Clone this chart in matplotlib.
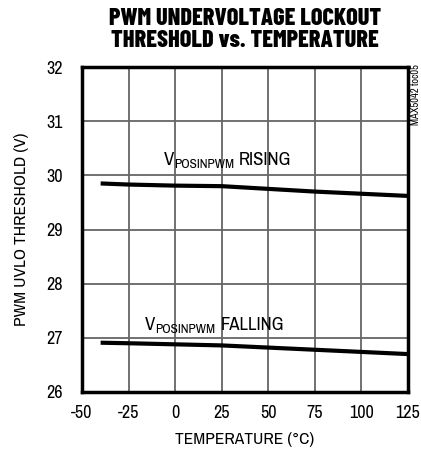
import matplotlib
matplotlib.use("Agg")
import matplotlib.pyplot as plt
from matplotlib.transforms import offset_copy

# narrow fonts similar to the datasheet look, DejaVu as fallback
body_font = ["Archivo Narrow", "DejaVu Sans"]
title_font = ["Barlow Condensed", "DejaVu Sans"]
plt.rcParams["font.family"] = body_font
plt.rcParams["axes.unicode_minus"] = False

temperature = [-40, -25, 0, 25, 50, 75, 100, 125]
rising = [29.85, 29.83, 29.81, 29.80, 29.75, 29.70, 29.66, 29.62]
falling = [26.91, 26.90, 26.88, 26.86, 26.82, 26.78, 26.74, 26.70]

x_ticks = [-50, -25, 0, 25, 50, 75, 100, 125]
y_ticks = [26, 27, 28, 29, 30, 31, 32]

fig = plt.figure(figsize=(4.21, 4.53), dpi=100)
ax = fig.add_axes([82 / 421, 1 - 392 / 453, 326 / 421, 325 / 453])

ax.plot(temperature, rising, color="black", lw=3, solid_capstyle="butt")
ax.plot(temperature, falling, color="black", lw=3, solid_capstyle="butt")

ax.set_xlim(-50, 125)
ax.set_ylim(26, 32)
ax.set_xticks(x_ticks)
ax.set_yticks(y_ticks)
ax.grid(True, color="#666666", lw=1.3)
ax.tick_params(length=0, labelsize=13, pad=9)
ax.tick_params(axis="y", pad=14)
for s in ax.spines.values():
    s.set_linewidth(2.5)

ax.set_xlabel("TEMPERATURE (°C)", fontsize=12.5, labelpad=8)
ax.set_ylabel("PWM UVLO THRESHOLD (V)", fontsize=12.5, labelpad=12)


def curve_label(x, y, tail):
    # "V" + subscript "POSINPWM" + tail, chained left to right
    renderer = fig.canvas.get_renderer()
    t = ax.text(x, y, "V", fontsize=13.5, ha="left", va="baseline")
    w = t.get_window_extent(renderer).width * 72 / fig.dpi
    tr = offset_copy(ax.transData, fig=fig, x=w, y=-1.7, units="points")
    s = ax.text(x, y, "POSINPWM", fontsize=9.5, ha="left", va="baseline", transform=tr)
    w += s.get_window_extent(renderer).width * 72 / fig.dpi + 3.5
    tr = offset_copy(ax.transData, fig=fig, x=w, y=0, units="points")
    ax.text(x, y, tail, fontsize=13.5, ha="left", va="baseline", transform=tr)


curve_label(-6, 30.185, "RISING")
curve_label(-16, 27.14, "FALLING")

fig.text(245 / 421, 1 - 8 / 453, "PWM UNDERVOLTAGE LOCKOUT\nTHRESHOLD vs. TEMPERATURE",
         ha="center", va="top", fontsize=17.5, fontweight=800, family=title_font,
         linespacing=1.0)
fig.text(411 / 421, 1 - 64 / 453, "MAX5042 toc05", rotation=90, ha="left", va="top",
         fontsize=7.5)

fig.savefig("out.png", dpi=100)
